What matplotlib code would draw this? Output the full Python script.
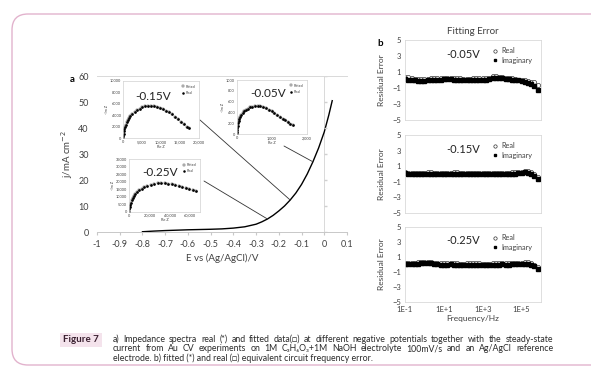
import matplotlib.pyplot as plt
from matplotlib.patches import FancyBboxPatch
from matplotlib.ticker import FuncFormatter

plt.rcParams['font.family'] = ['Lato', 'DejaVu Sans']

W, H = 591, 367  # output size in pixels

# ---- panel a: steady-state current vs potential
E = [-0.80, -0.75, -0.70, -0.65, -0.60, -0.55, -0.50, -0.45, -0.40, -0.35, -0.30,
     -0.275, -0.25, -0.225, -0.20, -0.175, -0.15, -0.125, -0.10, -0.075, -0.05,
     -0.025, 0.0, 0.02, 0.035]
j = [0.1, 0.35, 0.55, 0.7, 0.85, 0.95, 1.05, 1.2, 1.5, 2.0, 3.0,
     3.9, 5.0, 6.4, 8.1, 10.0, 12.3, 15.0, 18.3, 22.3, 27.0,
     32.3, 38.5, 45.0, 50.5]

# Nyquist insets (Re Z, -Im Z)
re_015 = [0, 40, 80, 150, 250, 400, 600, 850, 1150, 1500, 1900, 2400, 3000, 3600, 4300,
          5000, 5800, 6600, 7400, 8200, 9000, 9800, 10600, 11400, 12200, 13000, 13800,
          14600, 15400, 16200, 16900, 17500]
im_015 = [0, 400, 800, 1200, 1600, 2000, 2400, 2800, 3200, 3600, 3950, 4300, 4650, 4950, 5200,
          5400, 5550, 5600, 5600, 5550, 5450, 5300, 5100, 4850, 4550, 4200, 3800,
          3350, 2900, 2450, 2050, 1750]
re_005 = [0, 4, 8, 14, 22, 34, 50, 70, 95, 125, 160, 200, 250, 310, 370, 440, 510, 590,
          670, 750, 830, 910, 990, 1070, 1150, 1230, 1310, 1390, 1460, 1530, 1600]
im_005 = [0, 40, 80, 120, 160, 200, 240, 280, 320, 355, 390, 420, 450, 475, 495, 510, 520, 520,
          515, 500, 480, 455, 425, 395, 360, 325, 290, 255, 225, 195, 170]
re_025 = [0, 150, 400, 800, 1400, 2200, 3200, 4500, 6000, 7800, 10000, 12500, 15000, 18000,
          21000, 24500, 28000, 31500, 35000, 38500, 42000, 45500, 49000, 52500, 56000,
          59500, 63000, 66500]
im_025 = [0, 1500, 3000, 4500, 6000, 7500, 9000, 10400, 11700, 12900, 14200, 15300, 16300, 17200,
          17900, 18500, 18900, 19000, 18900, 18600, 18200, 17700, 17100, 16500, 15800,
          15100, 14300, 13500]

# ---- panel b: residual error vs frequency
freq = [0.1, 0.15, 0.22, 0.32, 0.46, 0.68, 1.0, 1.5, 2.2, 3.2, 4.6, 6.8,
        10, 15, 22, 32, 46, 68, 100, 150, 220, 320, 460, 680,
        1e3, 1.5e3, 2.2e3, 3.2e3, 4.6e3, 6.8e3, 1e4, 1.5e4, 2.2e4, 3.2e4, 4.6e4, 6.8e4,
        1e5, 1.5e5, 2.2e5, 3.2e5, 4.6e5, 6.8e5]
real_005 = [0.4, 0.35, 0.25, 0.15, 0.1, 0.1, 0.1, 0.15, 0.2, 0.25, 0.25, 0.3,
            0.3, 0.3, 0.25, 0.25, 0.2, 0.2, 0.15, 0.15, 0.15, 0.2, 0.2, 0.2,
            0.25, 0.25, 0.3, 0.45, 0.45, 0.4, 0.35, 0.3, 0.25, 0.2, 0.1, 0.05,
            0.0, -0.05, -0.1, -0.2, -0.3, -0.6]
imag_005 = [0.1, 0.05, 0.0, -0.05, -0.1, -0.1, -0.1, -0.05, 0.0, 0.0, 0.05, 0.05,
            0.1, 0.1, 0.1, 0.05, 0.05, 0.0, 0.0, -0.05, -0.05, 0.0, 0.0, 0.05,
            0.05, 0.05, 0.1, 0.3, 0.3, 0.25, 0.2, 0.15, 0.1, 0.05, 0.0, -0.05,
            -0.15, -0.25, -0.35, -0.5, -0.75, -1.2]
real_015 = [0.2, 0.15, 0.15, 0.1, 0.1, 0.15, 0.15, 0.2, 0.2, 0.15, 0.15, 0.1,
            0.1, 0.15, 0.15, 0.2, 0.2, 0.15, 0.15, 0.1, 0.1, 0.1, 0.15, 0.15,
            0.1, 0.1, 0.15, 0.15, 0.1, 0.1, 0.1, 0.15, 0.15, 0.2, 0.2, 0.25,
            0.3, 0.35, 0.35, 0.25, 0.0, -0.4]
imag_015 = [0.1, 0.05, 0.0, 0.0, -0.05, 0.0, 0.0, 0.05, 0.05, 0.0, 0.0, -0.05,
            -0.05, 0.0, 0.0, 0.05, 0.05, 0.0, 0.0, -0.05, -0.05, -0.05, 0.0, 0.0,
            -0.05, -0.05, 0.0, 0.0, -0.05, -0.05, -0.05, 0.0, 0.0, 0.05, 0.05, 0.1,
            0.15, 0.2, 0.15, 0.0, -0.25, -0.65]
real_025 = [0.2, 0.2, 0.15, 0.2, 0.3, 0.35, 0.4, 0.35, 0.3, 0.25, 0.2, 0.15,
            0.15, 0.2, 0.2, 0.15, 0.15, 0.1, 0.1, 0.15, 0.15, 0.2, 0.2, 0.15,
            0.1, 0.1, 0.1, 0.15, 0.15, 0.2, 0.2, 0.15, 0.15, 0.2, 0.2, 0.25,
            0.25, 0.3, 0.3, 0.2, 0.0, -0.35]
imag_025 = [0.1, 0.1, 0.05, 0.05, 0.1, 0.15, 0.2, 0.2, 0.15, 0.1, 0.05, 0.0,
            0.0, 0.0, 0.05, 0.0, 0.0, -0.05, -0.05, 0.0, 0.0, 0.0, 0.0, -0.05,
            -0.05, -0.05, -0.05, 0.0, 0.0, 0.0, 0.05, 0.0, 0.0, 0.05, 0.05, 0.05,
            0.1, 0.1, 0.1, 0.0, -0.2, -0.6]

caption_1 = "a) Impedance spectra real (*) and fitted data(\u25a1) at different negative potentials together with the steady-state"
caption_2 = "current from Au CV experiments on 1M C\u2083H\u2086O\u2083+1M NaOH electrolyte 100mV/s and an Ag/AgCl reference"
caption_3 = "electrode. b) fitted (*) and real (\u25a1) equivalent circuit frequency error."

GRID = '#c8c8c8'
TXT = '#404040'


def px_axes(fig, left, top, right, bottom):
    # axes placed by pixel edges of the reference picture
    return fig.add_axes([left / W, 1 - bottom / H, (right - left) / W, (bottom - top) / H])


def fig_text(fig, x, y, s, **kw):
    return fig.text(x / W, 1 - y / H, s, **kw)


def comma(v, pos):
    return f"{int(v):,}"


def nyquist_inset(fig, box, re, im, xlim, xticks, ylim, yticks, label, label_xy):
    ax = px_axes(fig, *box)
    ax.set_facecolor('white')
    ax.plot(re, im, 's', ms=1.9, mfc='white', mec='#222222', mew=0.3, label='Fitted')
    ax.plot(re, im, 'o', ms=0.9, color='black', label='Real')
    ax.set_xlim(*xlim)
    ax.set_ylim(*ylim)
    ax.set_xticks(xticks)
    ax.set_yticks(yticks)
    ax.xaxis.set_major_formatter(FuncFormatter(comma))
    ax.yaxis.set_major_formatter(FuncFormatter(lambda v, p: f"{int(v)}"))
    ax.tick_params(length=0, labelsize=2.8, colors=TXT, pad=1.5)
    for s in ax.spines.values():
        s.set_color('#d0d0d0')
        s.set_linewidth(0.5)
    ax.set_xlabel('Re Z', fontsize=2.8, color=TXT, labelpad=0.5)
    ax.set_ylabel('-Im Z', fontsize=2.8, color=TXT, labelpad=1)
    ax.text(label_xy[0], label_xy[1], label, transform=ax.transAxes, fontsize=8.5,
            color='#222222', ha='center', va='center')
    ax.legend(loc='upper right', fontsize=2.6, frameon=False, handlelength=0.6,
              handletextpad=0.4, labelspacing=0.6, borderaxespad=0.6, markerscale=0.9,
              labelcolor=TXT)
    return ax


def residual_panel(fig, box, real, imag, label, show_x):
    ax = px_axes(fig, *box)
    ax.plot(freq, real, 'o', ms=3.0, mfc='white', mec='#333333', mew=0.5, label='Real')
    ax.plot(freq, imag, 's', ms=2.6, color='black', label='Imaginary')
    ax.set_xscale('log')
    ax.set_xlim(0.1, 1e6)
    ax.set_ylim(-5, 5)
    ax.set_yticks([-5, -3, -1, 1, 3, 5])
    ax.set_xticks([0.1, 10, 1e3, 1e5])
    ax.set_xticklabels(['1E-1', '1E+1', '1E+3', '1E+5'])
    ax.tick_params(length=0, labelsize=5.5, colors=TXT, pad=3)
    ax.tick_params(which='minor', length=0)
    if not show_x:
        ax.tick_params(labelbottom=False)
    for s in ax.spines.values():
        s.set_color('#d9d9d9')
        s.set_linewidth(0.6)
    ax.set_ylabel('Residual Error', fontsize=6, color=TXT, labelpad=5)
    ax.text(0.43, 0.82, label, transform=ax.transAxes, fontsize=8, color='#222222',
            ha='center', va='center')
    ax.legend(loc='upper left', bbox_to_anchor=(0.6, 0.99), fontsize=5.2, frameon=False,
              handlelength=0.6, handletextpad=0.5, labelspacing=0.35, markerscale=0.8,
              labelcolor=TXT)
    return ax


def justify_line(fig, renderer, line, x0, x1, y, **kw):
    words = line.split(' ')
    texts = [fig_text(fig, x0, y, w, va='baseline', **kw) for w in words]
    widths = [t.get_window_extent(renderer).width for t in texts]
    gap = max(1.5, (x1 - x0 - sum(widths)) / (len(words) - 1))
    x = x0
    for t, w in zip(texts, widths):
        t.set_x(x / W)
        x += w + gap


fig = plt.figure(figsize=(W / 100, H / 100), dpi=100)
fig.patch.set_facecolor('white')

# pink rounded frame of the journal page
frame = FancyBboxPatch((0.12, 0.02), 6.2, 3.51, boxstyle='round,pad=0,rounding_size=0.16',
                       transform=fig.dpi_scale_trans, fc='none', ec='#e2b3cd', lw=1.0)
fig.patches.append(frame)

# ---- main axes (a)
ax = px_axes(fig, 97, 76, 347, 232)
ax.plot(E, j, color='black', lw=1.0)
ax.set_xlim(-1, 0.1)
ax.set_ylim(0, 60)
ax.set_xticks([-1, -0.9, -0.8, -0.7, -0.6, -0.5, -0.4, -0.3, -0.2, -0.1, 0, 0.1])
ax.set_xticklabels(['-1', '-0.9', '-0.8', '-0.7', '-0.6', '-0.5', '-0.4', '-0.3',
                    '-0.2', '-0.1', '0', '0.1'])
ax.set_yticks(range(0, 61, 10))
ax.tick_params(axis='x', length=2, color=GRID, labelsize=6.5, colors=TXT, pad=4)
ax.tick_params(axis='y', length=0, labelsize=6.5, colors=TXT, pad=6)
ax.spines['left'].set_visible(False)
ax.spines['right'].set_visible(False)
ax.spines['top'].set_color('#d9d9d9')
ax.spines['bottom'].set_color(GRID)
ax.spines['top'].set_linewidth(0.7)
ax.spines['bottom'].set_linewidth(0.7)
ax.axvline(0, color='#d9d9d9', lw=0.7, zorder=0)
ax.plot([0] * 7, list(range(0, 61, 10)), ls='none', marker=1, ms=2.5, color='#d0d0d0')
ax.set_xlabel('E vs (Ag/AgCl)/V', fontsize=7, color=TXT, labelpad=3)
ax.set_ylabel('j/mA cm$^{-2}$', fontsize=7, color=TXT, labelpad=2)


def on_curve(e):
    return j[E.index(e)]


# leader lines from insets to the curve
for e, start in [(-0.15, (200, 120)), (-0.05, (284, 146)), (-0.25, (204, 181))]:
    ax.annotate('', xy=(e, on_curve(e)), xycoords='data',
                xytext=(start[0] / W, 1 - start[1] / H), textcoords='figure fraction',
                arrowprops=dict(arrowstyle='-', color='#333333', lw=0.6, shrinkA=0, shrinkB=0))

nyquist_inset(fig, (123.3, 81, 198.7, 138.3), re_015, im_015, (0, 20000),
              [0, 5000, 10000, 15000, 20000], (0, 10000), range(0, 10001, 2000),
              '-0.15V', (0.4, 0.73))
nyquist_inset(fig, (237, 80, 306.7, 134.3), re_005, im_005, (0, 2000),
              [0, 1000, 2000], (0, 1000), range(0, 1001, 200),
              '-0.05V', (0.45, 0.76))
nyquist_inset(fig, (129.3, 159.3, 200, 211.7), re_025, im_025, (0, 70000),
              [0, 20000, 40000, 60000], (0, 35000), range(0, 35001, 5000),
              '-0.25V', (0.43, 0.75))

fig_text(fig, 72, 79, 'a', fontsize=7, fontweight='bold', ha='center', va='center')

# ---- panel b
residual_panel(fig, (405, 40, 541, 120), real_005, imag_005, '-0.05V', False)
residual_panel(fig, (405, 135, 541, 213), real_015, imag_015, '-0.15V', False)
axb = residual_panel(fig, (405, 227, 541, 302), real_025, imag_025, '-0.25V', True)
axb.set_xlabel('Frequency/Hz', fontsize=6, color=TXT, labelpad=1)

fig_text(fig, 473, 31, 'Fitting Error', fontsize=7, color=TXT, ha='center', va='center')
fig_text(fig, 380, 44, 'b', fontsize=7, fontweight='bold', ha='center', va='center')

# ---- caption
fig_text(fig, 81, 340, 'Figure 7', fontsize=7, fontweight='bold', color='#3a2030',
         ha='center', va='center',
         bbox=dict(boxstyle='square,pad=0.3', fc='#f4e3ec', ec='none'))
renderer = fig.canvas.get_renderer()
cap_kw = dict(fontsize=6.3, color='#2a2a2a')
justify_line(fig, renderer, caption_1, 113, 553, 342, **cap_kw)
justify_line(fig, renderer, caption_2, 113, 553, 351.3, **cap_kw)
fig_text(fig, 113, 360.6, caption_3, va='baseline', **cap_kw)

fig.savefig('out.png', dpi=100)
